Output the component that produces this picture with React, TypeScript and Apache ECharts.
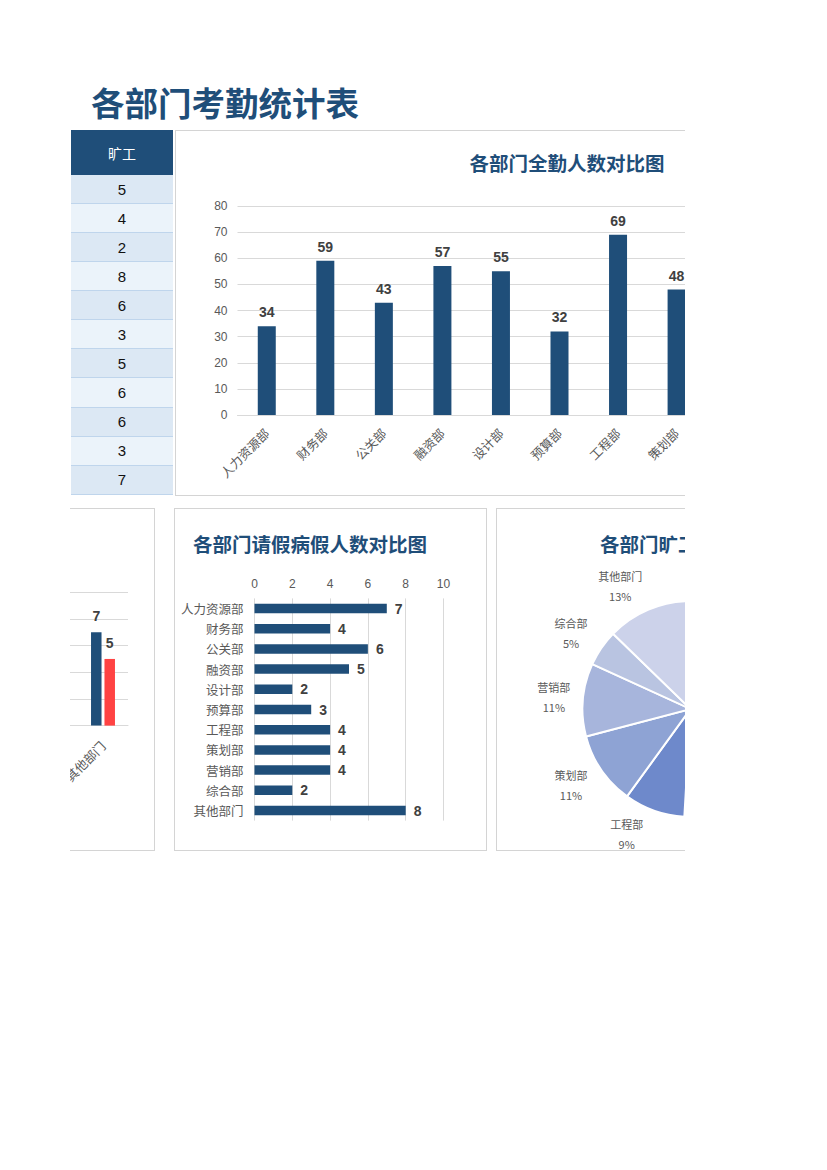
import React, { useEffect, useRef } from "react";
import * as echarts from "echarts";

// ---------- data ----------
const departments = ["人力资源部", "财务部", "公关部", "融资部", "设计部", "预算部", "工程部", "策划部", "营销部", "综合部", "其他部门"];
// 全勤人数 (last three lie outside the visible area: unknown)
const fullAttendance: (number | null)[] = [34, 59, 43, 57, 55, 32, 69, 48, null, null, null];
// 请假病假人数
const leaveCounts = [7, 4, 6, 5, 2, 3, 4, 4, 4, 2, 8];
// 旷工人数 (table column + pie)
const absentCounts = [5, 4, 2, 8, 6, 3, 5, 6, 6, 3, 7];
// partly visible clustered chart (only 其他部门 readable)
const seriesA: (number | null)[] = [null, null, null, null, null, null, null, null, null, null, 7];
const seriesB: (number | null)[] = [null, null, null, null, null, null, null, null, null, null, 5];
const pieColors = ["#1f3864", "#26457d", "#2e5296", "#3760a9", "#4a6fb8", "#5a7bc0", "#6e89cb", "#8ea3d4", "#a7b5dc", "#b9c4e1", "#ccd2ea"];

const tableHeader = "旷工";
const mainTitle = "各部门考勤统计表";
const titleTop = "各部门全勤人数对比图";
const titleLeave = "各部门请假病假人数对比图";
const titlePie = "各部门旷工人数对比图";

const NUM_FONT = "'Liberation Sans', 'Noto Sans CJK SC', sans-serif";
const CJK_FONT = "'Noto Sans CJK SC', sans-serif";
const DARK = "#1f4e79";
const GRID = "#d9d9d9";
const LABEL = "#595959";
const VALUE = "#404040";

const boxStyle = (left: number, top: number, width: number, height: number): React.CSSProperties => ({
  position: "absolute",
  left,
  top,
  width,
  height,
  border: "1.5px solid #d4d4d4",
  boxSizing: "border-box",
  background: "#fff",
});

const labelIfKnown = (values: (number | null)[]) => (v: string, i: number) => (values[i] == null ? "" : v);

export default function App() {
  const topRef = useRef<HTMLDivElement>(null);
  const leftRef = useRef<HTMLDivElement>(null);
  const hbarRef = useRef<HTMLDivElement>(null);
  const pieRef = useRef<HTMLDivElement>(null);

  useEffect(() => {
    const charts: echarts.ECharts[] = [];

    // ---- top vertical bar chart ----
    const top = echarts.init(topRef.current!, null, { renderer: "svg" });
    top.setOption({
      animation: false,
      title: {
        text: titleTop,
        left: "center",
        top: 23,
        padding: 0,
        textStyle: { fontSize: 19.5, fontWeight: "bold", color: DARK, fontFamily: CJK_FONT },
      },
      grid: { left: 62.5, top: 76, width: 644, height: 209, outerBoundsMode: "none" },
      xAxis: {
        type: "category",
        data: departments,
        axisTick: { show: false },
        axisLine: { lineStyle: { color: GRID } },
        axisLabel: {
          rotate: 45,
          interval: 0,
          margin: 16,
          fontSize: 12.5,
          color: LABEL,
          fontFamily: CJK_FONT,
          formatter: labelIfKnown(fullAttendance),
        },
      },
      yAxis: {
        type: "value",
        min: 0,
        max: 80,
        interval: 10,
        axisLine: { show: false },
        axisTick: { show: false },
        axisLabel: { margin: 10, fontSize: 12, color: LABEL, fontFamily: NUM_FONT },
        splitLine: { lineStyle: { color: GRID } },
      },
      series: [
        {
          type: "bar",
          data: fullAttendance,
          barWidth: 18,
          itemStyle: { color: DARK },
          label: { show: true, position: "top", distance: 7, fontSize: 14, fontWeight: "bold", color: VALUE, fontFamily: NUM_FONT },
        },
      ],
    });
    charts.push(top);

    // ---- partly visible clustered chart ----
    const left = echarts.init(leftRef.current!, null, { renderer: "svg" });
    left.setOption({
      animation: false,
      grid: { left: -172, top: 84.3, width: 550, height: 133.3, outerBoundsMode: "none" },
      xAxis: {
        type: "category",
        data: departments,
        axisTick: { show: false },
        axisLine: { lineStyle: { color: GRID } },
        axisLabel: {
          rotate: 45,
          interval: 0,
          margin: 18,
          fontSize: 12.5,
          color: LABEL,
          fontFamily: CJK_FONT,
          formatter: labelIfKnown(seriesA),
        },
      },
      yAxis: {
        type: "value",
        min: 0,
        max: 10,
        interval: 2,
        axisLine: { show: false },
        axisTick: { show: false },
        axisLabel: { show: false },
        splitLine: { lineStyle: { color: GRID } },
      },
      series: [
        {
          type: "bar",
          name: "A",
          data: seriesA,
          barWidth: 10.5,
          barGap: "28%",
          itemStyle: { color: DARK },
          label: { show: true, position: "top", distance: 9, fontSize: 14, fontWeight: "bold", color: VALUE, fontFamily: NUM_FONT },
        },
        {
          type: "bar",
          name: "B",
          data: seriesB,
          barWidth: 10.5,
          itemStyle: { color: "#ff4343" },
          label: { show: true, position: "top", distance: 9, fontSize: 14, fontWeight: "bold", color: VALUE, fontFamily: NUM_FONT },
        },
      ],
    });
    charts.push(left);

    // ---- horizontal bar chart ----
    const hbar = echarts.init(hbarRef.current!, null, { renderer: "svg" });
    hbar.setOption({
      animation: false,
      title: {
        text: titleLeave,
        left: 19,
        top: 26,
        padding: 0,
        textStyle: { fontSize: 19.5, fontWeight: "bold", color: DARK, fontFamily: CJK_FONT },
      },
      grid: { left: 80.5, top: 90.4, width: 189, height: 222.2, outerBoundsMode: "none" },
      xAxis: {
        type: "value",
        position: "top",
        min: 0,
        max: 10,
        interval: 2,
        axisLine: { show: false },
        axisTick: { show: false },
        axisLabel: { margin: 8, fontSize: 12, color: LABEL, fontFamily: NUM_FONT },
        splitLine: { lineStyle: { color: GRID } },
      },
      yAxis: {
        type: "category",
        inverse: true,
        data: departments,
        axisLine: { show: false },
        axisTick: { show: false },
        axisLabel: { margin: 11, fontSize: 12.5, color: LABEL, fontFamily: CJK_FONT },
      },
      series: [
        {
          type: "bar",
          data: leaveCounts,
          barWidth: 9.5,
          itemStyle: { color: DARK },
          label: { show: true, position: "right", distance: 8, fontSize: 14, fontWeight: "bold", color: VALUE, fontFamily: NUM_FONT },
        },
      ],
    });
    charts.push(hbar);

    // ---- pie chart ----
    const pie = echarts.init(pieRef.current!, null, { renderer: "svg" });
    const pieData = departments.map((d, i) => ({ name: d, value: absentCounts[i] }));
    const pcx = 194.5;
    const pcy = 201;
    pie.setOption({
      animation: false,
      title: {
        text: titlePie,
        left: 104,
        top: 26,
        padding: 0,
        textStyle: { fontSize: 19.5, fontWeight: "bold", color: DARK, fontFamily: CJK_FONT },
      },
      color: pieColors,
      series: [
        {
          type: "pie",
          center: [pcx, pcy],
          radius: 108,
          startAngle: 90,
          clockwise: true,
          silent: true,
          data: pieData,
          itemStyle: { borderColor: "#ffffff", borderWidth: 2 },
          label: { show: false },
          labelLine: { show: false },
        },
        {
          type: "pie",
          center: [pcx, pcy],
          radius: [124, 144],
          startAngle: 90,
          clockwise: true,
          silent: true,
          data: pieData,
          itemStyle: { color: "rgba(0,0,0,0)" },
          labelLine: { show: false },
          label: {
            show: true,
            position: "inside",
            formatter: (p: any) => `${p.name}\n${Math.round(p.percent)}%`,
            fontSize: 11,
            lineHeight: 20,
            color: LABEL,
            fontFamily: CJK_FONT,
          },
          // best-fit style: labels near the vertical axis are pushed sideways and slightly inwards
          labelLayout: (params: any) => {
            const r = params.labelRect;
            const lx = r.x + r.width / 2 - pcx;
            const ly = r.y + r.height / 2 - pcy;
            const c2 = (ly * ly) / (lx * lx + ly * ly);
            return { dx: 20 * c2 * (lx < 0 ? -1 : 1), dy: -4 * c2 * Math.sign(ly) };
          },
        },
      ],
    });
    charts.push(pie);

    return () => charts.forEach((c) => c.dispose());
  }, []);

  const rowTop = 175;
  const rowH = 29.07;

  return (
    <div style={{ position: "absolute", left: 0, top: 0, width: 827, height: 1170, background: "#fff", overflow: "hidden" }}>
      <div style={{ position: "absolute", left: 0, top: 0, width: 827, height: 1170, clipPath: "inset(0px 142px 0px 70px)" }}>
        {/* main title */}
        <div
          style={{
            position: "absolute",
            left: 91,
            top: 82,
            height: 40,
            lineHeight: "40px",
            fontSize: 33.5,
            fontWeight: "bold",
            color: DARK,
            fontFamily: CJK_FONT,
            whiteSpace: "nowrap",
          }}
        >
          {mainTitle}
        </div>

        {/* table column */}
        <div
          style={{
            position: "absolute",
            left: 71,
            top: 130,
            width: 102,
            height: 45,
            background: DARK,
            color: "#fff",
            fontSize: 14,
            fontFamily: CJK_FONT,
            display: "flex",
            alignItems: "center",
            justifyContent: "center",
          }}
        >
          {tableHeader}
        </div>
        {absentCounts.map((v, i) => (
          <div
            key={i}
            style={{
              position: "absolute",
              left: 71,
              top: rowTop + i * rowH,
              width: 102,
              height: rowH,
              boxSizing: "border-box",
              background: i % 2 === 0 ? "#dce8f4" : "#ebf3fa",
              borderBottom: "1.5px solid #bfd5ec",
              color: "#111",
              fontSize: 15,
              fontFamily: NUM_FONT,
              display: "flex",
              alignItems: "center",
              justifyContent: "center",
            }}
          >
            {v}
          </div>
        ))}

        {/* top chart box */}
        <div style={boxStyle(175, 130, 784, 366)}>
          <div ref={topRef} style={{ position: "absolute", left: -1.5, top: -1.5, width: 784, height: 366 }} />
        </div>

        {/* left partly visible chart box */}
        <div style={boxStyle(-250, 508, 405, 343)}>
          <div ref={leftRef} style={{ position: "absolute", left: -1.5, top: -1.5, width: 405, height: 343 }} />
        </div>

        {/* horizontal bar chart box */}
        <div style={boxStyle(174, 508, 313, 343)}>
          <div ref={hbarRef} style={{ position: "absolute", left: -1.5, top: -1.5, width: 313, height: 343 }} />
        </div>

        {/* pie chart box */}
        <div style={boxStyle(496, 508, 403, 343)}>
          <div ref={pieRef} style={{ position: "absolute", left: -1.5, top: -1.5, width: 403, height: 343 }} />
        </div>
      </div>
    </div>
  );
}
